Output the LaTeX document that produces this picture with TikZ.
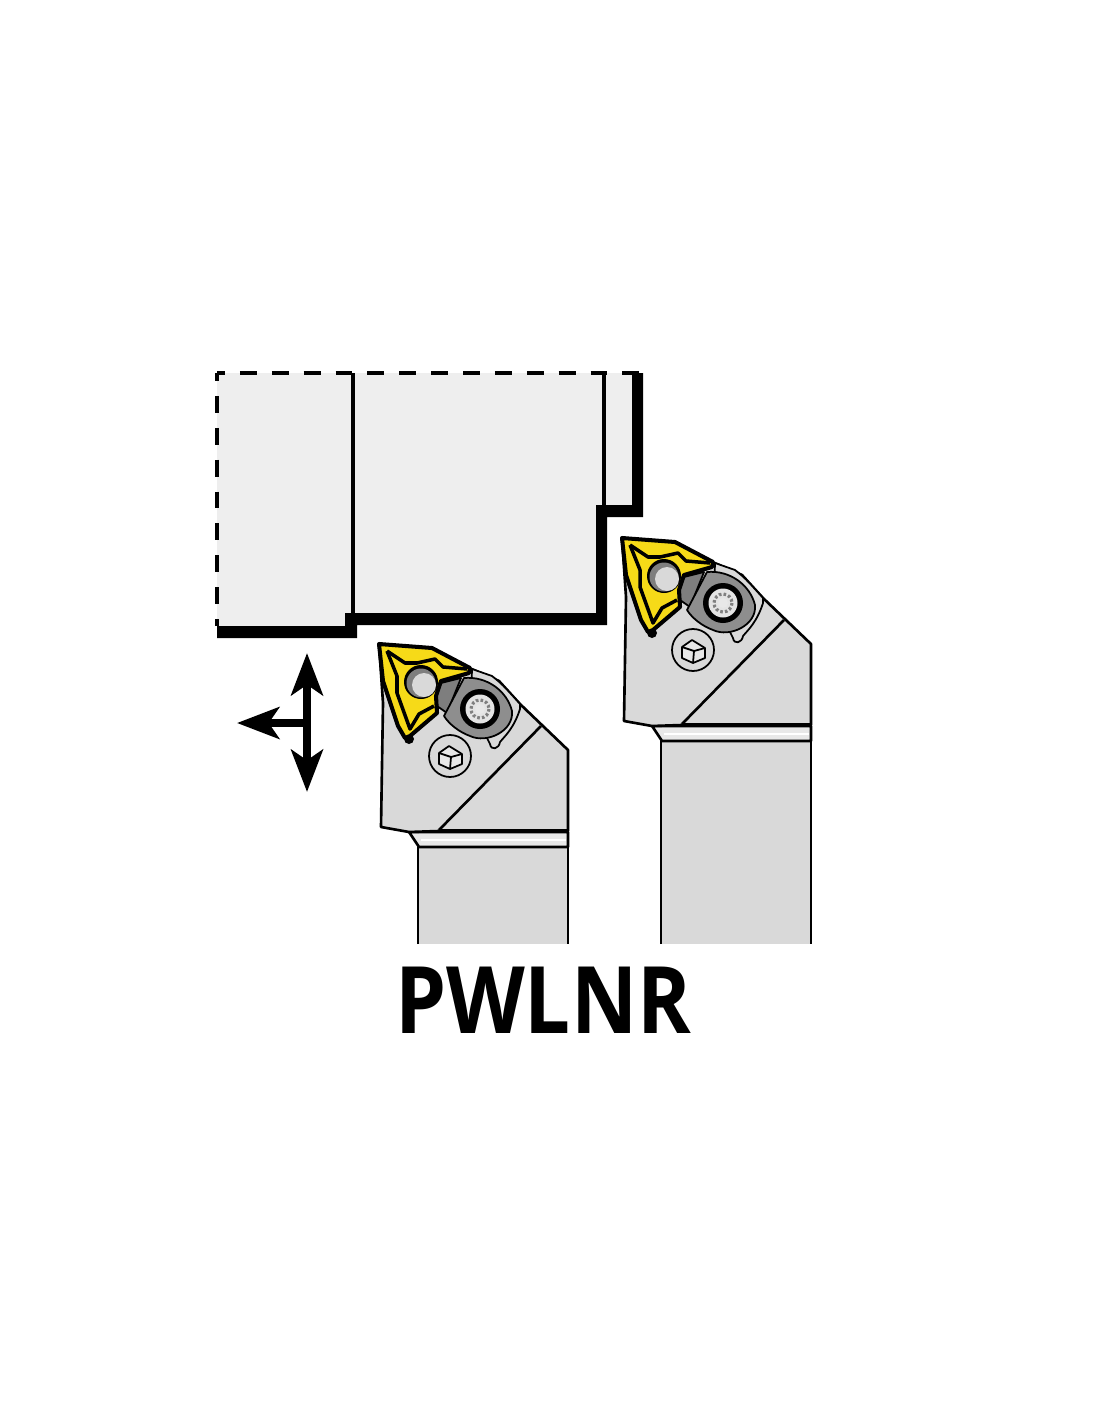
\documentclass[tikz,border=0pt]{standalone}
\usepackage{fontspec}
\newfontfamily\namefont[FakeStretch=0.875]{Open Sans}
\usetikzlibrary{arrows.meta}

\definecolor{blockgray}{HTML}{EEEEEE}
\definecolor{bodygray}{HTML}{D9D9D9}
\definecolor{stripgray}{HTML}{E8E8E8}
\definecolor{clampgray}{HTML}{8E8E8E}
\definecolor{wedgegray}{HTML}{7E7E7E}
\definecolor{insertyellow}{HTML}{F6DA18}

\tikzset{
    outline/.style={black, line width=1.5pt, line join=round},
    thinline/.style={black, line width=1pt, line join=round},
    breaker/.style={black, line width=2pt, line join=round},
    cutdash/.style={black, line width=2.2pt, dash pattern=on 9.64pt off 8.5pt, dash phase=5.1pt},
    feedarrow/.style={-{Stealth[length=24pt, width=18pt, inset=6pt]}, black, line width=4.5pt},
}

% One holder, drawn at the place of the right one; #1 is the lower end of the shaft
\newcommand{\drawholder}[1]{
    % Shaft
    \fill[bodygray] (661,741) rectangle (811,#1);
    \draw[outline] (661,#1) -- (661,741) -- (811,741) -- (811,#1);
    \draw[outline, fill=stripgray] (652,726) -- (662,741) -- (811,741) -- (811,726) -- cycle;
    \draw[white, line width=0.8pt] (664,734) -- (809,734);

    % Head
    \draw[outline, fill=bodygray] (622,538) -- (626,597) -- (624,721) -- (652,726) -- (682,725)
        -- (811,725) -- (811,644) -- (763,598) -- (742,575) -- (710,561) -- cycle;
    \draw[black, line width=2.4pt] (682,725) -- (811,725);
    \draw[outline] (682,724) -- (784,620);

    % Seat and clamp
    \draw[thinline, fill=bodygray] (715,563) -- (735,570) .. controls (745,578) .. (763,598) -- (763,603)
        .. controls (757,622) and (748,630) .. (743,636) .. controls (742,643) and (734,645) .. (733,638)
        -- (730,632) -- (713,625) -- cycle;
    \draw[thinline, fill=wedgegray] (684,577) -- (704,572) -- (690,607) -- (680,600) -- (679,590) -- cycle;
    \draw[thinline, fill=clampgray] (707,572) .. controls (730,570) and (750,585) .. (755,605)
        .. controls (757,625) and (730,638) .. (713,630) .. controls (702,626) and (692,618) .. (687,610) -- cycle;

    % Clamp screw
    \fill[black] (723,603) circle (20);
    \fill[bodygray!70!white] (723,603) circle (14.5);
    \draw[gray, line width=1.8pt, dash pattern=on 1.5pt off 1.2pt] (723,603) circle (9);
    \fill[stripgray] (723,603) circle (5);

    % Hex screw
    \draw[thinline, fill=bodygray] (693,650) circle (21);
    \draw[thinline, fill=stripgray] (682,647) -- (692,640) -- (705,648) -- (705,658) -- (693,663) -- (682,658) -- cycle;
    \draw[thinline] (682,647) -- (694,651) -- (693,663);
    \draw[thinline] (694,651) -- (705,648);

    % Insert
    \fill[black] (652,633) circle (5);
    \draw[black, line width=2.3pt, line join=round, fill=insertyellow] (622,538) -- (675,542) -- (713,562) -- (712,567)
        -- (684,575) -- (679,590) -- (680,607) -- (653,630) -- (648,632) -- (641,620) -- (626,575) -- cycle;
    \draw[breaker] (630,545) -- (648,557) -- (660,557) -- (678,553) -- (686,561) -- (710,563);
    \draw[breaker] (630,545) -- (640,570) -- (640,587) -- (653,623) -- (662,608) -- (677,600);

    % Insert hole
    \fill[black] (664,576) circle (17);
    \fill[wedgegray] (664,577) circle (14.5);
    \fill[bodygray] (667,579) circle (12);
}

\begin{document}
\begin{tikzpicture}[x=0.02cm, y=-0.02cm]

    \useasboundingbox (0,0) rectangle (1100,1422);

    % Workpiece
    \fill[blockgray] (217,373) -- (632,373) -- (632,505) -- (596,505) -- (596,613) -- (345,613) -- (345,626) -- (217,626) -- cycle;
    \fill[black] (217,626) -- (345,626) -- (345,613) -- (596,613) -- (596,505) -- (632,505) -- (632,373)
        -- (643,373) -- (643,517) -- (607,517) -- (607,625) -- (357,625) -- (357,638) -- (217,638) -- cycle;
    \draw[black, line width=2.3pt] (353,373) -- (353,613);
    \draw[black, line width=2.6pt] (604,373) -- (604,505);
    \coordinate (corner) at (217,373);
    \coordinate (topend) at (643,373);
    \coordinate (leftend) at (217,626);
    \draw[cutdash] (corner) -- (topend);
    \draw[cutdash] (corner) -- (leftend);

    % Feed directions
    \coordinate (hub) at (307,723);
    \coordinate (feedup) at (307,653);
    \coordinate (feeddown) at (307,792);
    \coordinate (feedleft) at (237,723);
    \draw[feedarrow] (hub) -- (feedup);
    \draw[feedarrow] (hub) -- (feeddown);
    \draw[feedarrow] (hub) -- (feedleft);

    % Holders
    \drawholder{944}
    \begin{scope}[shift={(-243,106)}]
        \drawholder{838}
    \end{scope}

    % Name
    \node[anchor=base, inner sep=0pt, font=\namefont\bfseries\fontsize{53}{53}\selectfont] (toolname) at (543,1033) {PWLNR};

\end{tikzpicture}
\end{document}
